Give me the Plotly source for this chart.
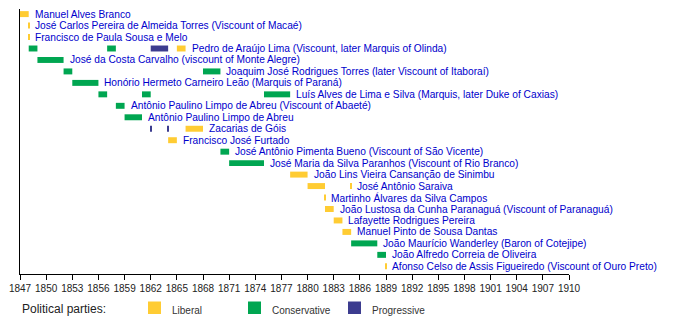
import plotly.graph_objects as go

# ---- data ----
names = [
    "Manuel Alves Branco",
    "José Carlos Pereira de Almeida Torres (Viscount of Macaé)",
    "Francisco de Paula Sousa e Melo",
    "Pedro de Araújo Lima (Viscount, later Marquis of Olinda)",
    "José da Costa Carvalho (viscount of Monte Alegre)",
    "Joaquim José Rodrigues Torres (later Viscount of Itaboraí)",
    "Honório Hermeto Carneiro Leão (Marquis of Paraná)",
    "Luís Alves de Lima e Silva (Marquis, later Duke of Caxias)",
    "Antônio Paulino Limpo de Abreu (Viscount of Abaeté)",
    "Antônio Paulino Limpo de Abreu",
    "Zacarias de Góis",
    "Francisco José Furtado",
    "José Antônio Pimenta Bueno (Viscount of São Vicente)",
    "José Maria da Silva Paranhos (Viscount of Rio Branco)",
    "João Lins Vieira Cansanção de Sinimbu",
    "José Antônio Saraiva",
    "Martinho Álvares da Silva Campos",
    "João Lustosa da Cunha Paranaguá (Viscount of Paranaguá)",
    "Lafayette Rodrigues Pereira",
    "Manuel Pinto de Sousa Dantas",
    "João Maurício Wanderley (Baron of Cotejipe)",
    "João Alfredo Correia de Oliveira",
    "Afonso Celso de Assis Figueiredo (Viscount of Ouro Preto)",
]

term_row = [0, 1, 2, 3, 3, 3, 3, 4, 5, 5, 6, 7, 7, 7, 8, 9, 10, 10, 10, 11,
            12, 13, 14, 15, 15, 16, 17, 18, 19, 20, 21, 22]
term_start = [1847, 1848, 1848, 1848, 1857, 1862, 1865, 1849, 1852, 1868, 1853,
              1856, 1861, 1875, 1858, 1859, 1862, 1864, 1866, 1864,
              1870, 1871, 1878, 1880, 1885, 1882, 1882, 1883, 1884, 1885, 1888, 1889]
term_end = [1848, 1848, 1848, 1849, 1858, 1864, 1866, 1852, 1853, 1870, 1856,
            1857, 1862, 1878, 1859, 1861, 1862, 1864, 1868, 1865,
            1871, 1875, 1880, 1882, 1885, 1882, 1883, 1884, 1885, 1888, 1889, 1889]
term_party = ["Liberal", "Liberal", "Liberal", "Conservative", "Conservative",
              "Progressive", "Liberal", "Conservative", "Conservative", "Conservative",
              "Conservative", "Conservative", "Conservative", "Conservative",
              "Conservative", "Conservative", "Progressive", "Progressive", "Liberal",
              "Liberal", "Conservative", "Conservative", "Liberal", "Liberal", "Liberal",
              "Liberal", "Liberal", "Liberal", "Liberal", "Conservative", "Conservative",
              "Liberal"]

parties = ["Liberal", "Conservative", "Progressive"]
party_colors = {"Liberal": "#FFCC33", "Conservative": "#00A651", "Progressive": "#3C3C8F"}
tick_years = list(range(1847, 1911, 3))

# ---- figure ----
MIN_W = 0.12  # zero-length terms shown as hairlines
fig = go.Figure()
for p in parties:
    idx = [i for i, q in enumerate(term_party) if q == p]
    base, dur, ys = [], [], []
    for i in idx:
        d = term_end[i] - term_start[i]
        if d < MIN_W:
            base.append(term_start[i] - MIN_W / 2)
            dur.append(MIN_W)
        else:
            base.append(term_start[i])
            dur.append(d)
        ys.append(term_row[i])
    fig.add_trace(go.Bar(
        orientation="h", base=base, x=dur, y=ys, width=0.52,
        marker=dict(color=party_colors[p], line=dict(width=0)),
        showlegend=False, hoverinfo="skip",
    ))

# labels after each person's last term
for r, name in enumerate(names):
    last = max(term_end[i] for i in range(len(term_row)) if term_row[i] == r)
    fig.add_annotation(
        x=last, y=r, xref="x", yref="y", text=name, showarrow=False,
        xanchor="left", yanchor="middle", xshift=4,
        font=dict(family="Liberation Sans, Arial", size=10.2, color="#0000CC"),
    )

# legend (manual)
plot_l, plot_w, plot_t, plot_h = 20, 549, 9, 265
def px_x(px):
    return (px - plot_l) / plot_w
def px_y(py):
    return (plot_t + plot_h - py) / plot_h

fig.add_annotation(x=px_x(20), y=px_y(308.5), xref="paper", yref="paper",
                   text="Political parties:", showarrow=False, xanchor="left",
                   yanchor="middle",
                   font=dict(family="Liberation Sans, Arial", size=12, color="#222222"))
for k, p in enumerate(parties):
    x0 = 148 + 100 * k
    fig.add_shape(type="rect", xref="paper", yref="paper",
                  x0=px_x(x0), x1=px_x(x0 + 13), y0=px_y(314), y1=px_y(301.5),
                  fillcolor=party_colors[p], line=dict(width=0))
    fig.add_annotation(x=px_x(x0 + 22), y=px_y(310), xref="paper", yref="paper",
                       text=p, showarrow=False, xanchor="left", yanchor="middle",
                       font=dict(family="Liberation Sans, Arial", size=10, color="#333333"))

fig.update_layout(
    width=700, height=324,
    margin=dict(l=20, r=131, t=9, b=50),
    paper_bgcolor="white", plot_bgcolor="white",
    barmode="overlay",
    showlegend=False,
    xaxis=dict(range=[1847, 1910], tickvals=tick_years, ticktext=[str(y) for y in tick_years],
               showline=True, linecolor="black", linewidth=1, ticks="outside",
               ticklen=5, tickcolor="black", showgrid=False, zeroline=False,
               tickfont=dict(family="Liberation Sans, Arial", size=10, color="#222222")),
    yaxis=dict(range=[22.67, -0.445], showline=True, linecolor="black", linewidth=1,
               showticklabels=False, ticks="", showgrid=False, zeroline=False),
)

fig.write_html("out.html")
